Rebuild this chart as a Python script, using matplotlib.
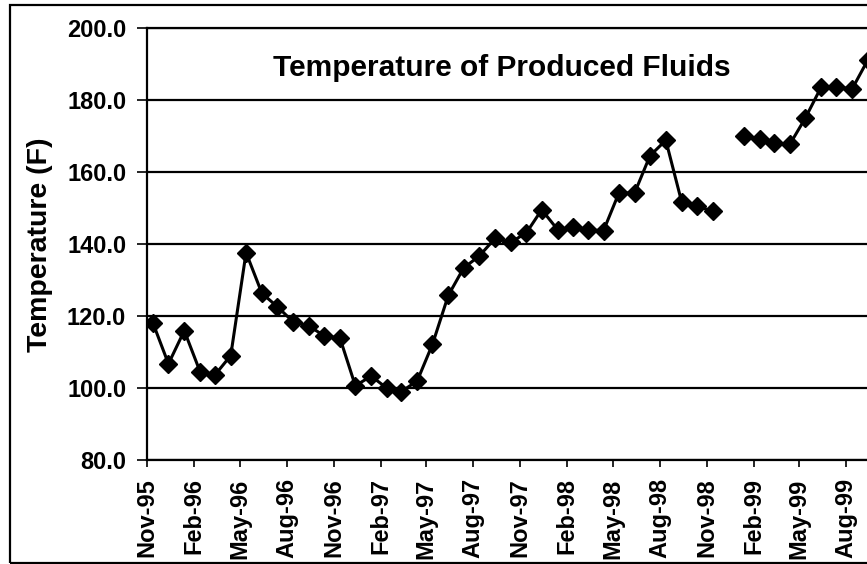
import numpy as np
import pandas as pd
import matplotlib
matplotlib.use("Agg")
import matplotlib.pyplot as plt
import matplotlib.dates as mdates
from matplotlib.patches import Rectangle

plt.rcParams['font.family'] = ['Liberation Sans', 'DejaVu Sans']
plt.rcParams['font.weight'] = 'bold'

# monthly readings, Nov-95 .. Sep-99 (Dec-98 missing)
months = pd.date_range('1995-11-01', '1999-09-01', freq='MS')
temps = [118.0, 106.8, 116.0, 104.6, 103.7, 109.1, 137.7, 126.4, 122.7, 118.5,
         117.3, 114.6, 113.9, 100.7, 103.4, 100.0, 99.1, 102.0, 112.2, 125.8,
         133.4, 136.8, 141.7, 140.5, 143.2, 149.6, 144.1, 144.7, 144.0, 143.8,
         154.2, 154.3, 164.6, 168.9, 151.8, 150.6, 149.2, np.nan,
         170.1, 169.2, 168.0, 167.8, 175.0, 183.6, 183.6, 183.2, 191.3]
tick_dates = pd.date_range('1995-11-01', '1999-08-01', freq='3MS')
y_ticks = [80, 100, 120, 140, 160, 180, 200]

# readings were taken around the middle of each month
read_dates = months + pd.Timedelta(days=12)

fig = plt.figure(figsize=(8.67, 5.64), dpi=100)
ax = fig.add_axes([147 / 867, 1 - 460.3 / 564, 720 / 867, 432 / 564])

ax.plot(read_dates, temps, color='black', lw=2.2, marker='D', ms=9,
        markerfacecolor='black', markeredgecolor='black')

ax.set_xlim(pd.Timestamp('1995-11-01'), pd.Timestamp('1999-09-11'))
ax.set_ylim(80, 200)
ax.set_yticks(y_ticks)
ax.yaxis.set_major_formatter(matplotlib.ticker.FormatStrFormatter('%.1f'))
ax.set_xticks(tick_dates)
ax.xaxis.set_major_formatter(mdates.DateFormatter('%b-%y'))
ax.grid(axis='y', color='black', lw=1.6)
ax.set_axisbelow(True)

ax.tick_params(axis='y', direction='out', length=7, width=1.2, pad=8, labelsize=17)
ax.tick_params(axis='x', direction='out', length=5, width=1.2, pad=8, labelsize=17,
               labelrotation=90)
for lab in ax.get_xticklabels() + ax.get_yticklabels():
    lab.set_fontweight('bold')

for side in ['top', 'bottom', 'left']:
    ax.spines[side].set_linewidth(1.6)
ax.spines['right'].set_visible(False)

ax.set_ylabel('Temperature (F)', fontsize=20.5, fontweight='bold', labelpad=10)
ax.text(0.493, 0.8896, 'Temperature of Produced Fluids', transform=ax.transAxes,
        ha='center', va='baseline', fontsize=21.5, fontweight='bold')

# outer chart frame (right edge cropped off)
fig.patches.append(Rectangle((10 / 867, 1.5 / 564), 1.0, 1 - 6.5 / 564,
                             transform=fig.transFigure, fill=False,
                             edgecolor='black', lw=1.6))

fig.savefig('out.png', dpi=100)
